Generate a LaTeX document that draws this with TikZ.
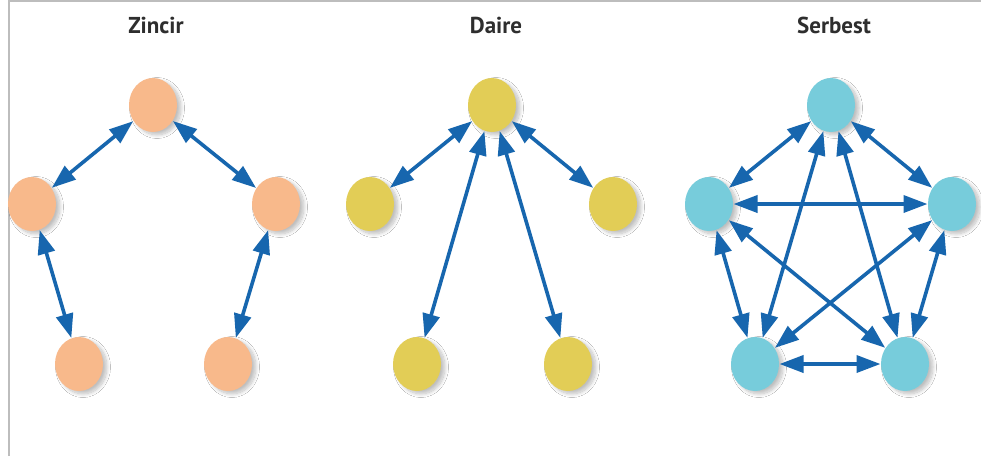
\documentclass[tikz,border=0pt]{standalone}
\usepackage{fontspec}
\setmainfont{PT Sans}
\usetikzlibrary{arrows.meta,shapes.geometric,shadows.blur}
\definecolor{peach}{HTML}{F8B98B}
\definecolor{mustard}{HTML}{E2CD56}
\definecolor{aqua}{HTML}{77CCDB}
\definecolor{linkblue}{HTML}{1766AE}
\definecolor{framegray}{HTML}{BDBDBD}
\definecolor{titlegray}{HTML}{2E2E2E}
\tikzset{
  member/.style={ellipse, minimum width=48pt, minimum height=54pt, inner sep=0pt, outer sep=0pt,
    blur shadow={shadow xshift=4pt, shadow yshift=-3pt, shadow blur radius=3.5pt,
      shadow blur steps=10, shadow opacity=25}},
  chainnode/.style={member, fill=peach},
  wheelnode/.style={member, fill=mustard},
  freenode/.style={member, fill=aqua},
  link/.style={draw=linkblue, line width=3.6pt, shorten <=0.5pt, shorten >=0.5pt,
    {Triangle[length=24pt,width=17pt]}-{Triangle[length=24pt,width=17pt]}},
  heading/.style={anchor=base, font=\fontsize{23}{27}\selectfont\bfseries, text=titlegray}
}
\begin{document}
\begin{tikzpicture}[x=1pt,y=-1pt]
  \useasboundingbox (0,0) rectangle (981,456);
  \fill[white] (0,0) rectangle (981,456);
  % frame
  \draw[framegray, line width=1.5pt] (9,456) -- (9,0.75) -- (981,0.75);

  % headings
  \node[heading] (h1) at (156,33) {Zincir};
  \node[heading] (h2) at (496,33) {Daire};
  \node[heading] (h3) at (834,33) {Serbest};

  % chain network
  \node[chainnode] (zt)  at (153,105) {};
  \node[chainnode] (zl)  at (32,204) {};
  \node[chainnode] (zr)  at (276,204) {};
  \node[chainnode] (zbl) at (79,364) {};
  \node[chainnode] (zbr) at (228,364) {};
  \draw[link] (zt) -- (zl);
  \draw[link] (zt) -- (zr);
  \draw[link] (zl) -- (zbl);
  \draw[link] (zr) -- (zbr);

  % wheel network
  \node[wheelnode] (dt)  at (492,105) {};
  \node[wheelnode] (dl)  at (370,204) {};
  \node[wheelnode] (dr)  at (613,204) {};
  \node[wheelnode] (dbl) at (417,364) {};
  \node[wheelnode] (dbr) at (568,364) {};
  \draw[link] (dt) -- (dl);
  \draw[link] (dt) -- (dr);
  \draw[link] (dt) -- (dbl);
  \draw[link] (dt) -- (dbr);

  % all-channel network
  \node[freenode] (st)  at (831,105) {};
  \node[freenode] (sl)  at (709,204) {};
  \node[freenode] (sr)  at (952,204) {};
  \node[freenode] (sbl) at (755,364) {};
  \node[freenode] (sbr) at (905,364) {};
  \draw[link] (st) -- (sl);
  \draw[link] (st) -- (sr);
  \draw[link] (st) -- (sbl);
  \draw[link] (st) -- (sbr);
  \draw[link] (sl) -- (sr);
  \draw[link] (sl) -- (sbl);
  \draw[link] (sl) -- (sbr);
  \draw[link] (sr) -- (sbl);
  \draw[link] (sr) -- (sbr);
  \draw[link] (sbl) -- (sbr);
\end{tikzpicture}
\end{document}
